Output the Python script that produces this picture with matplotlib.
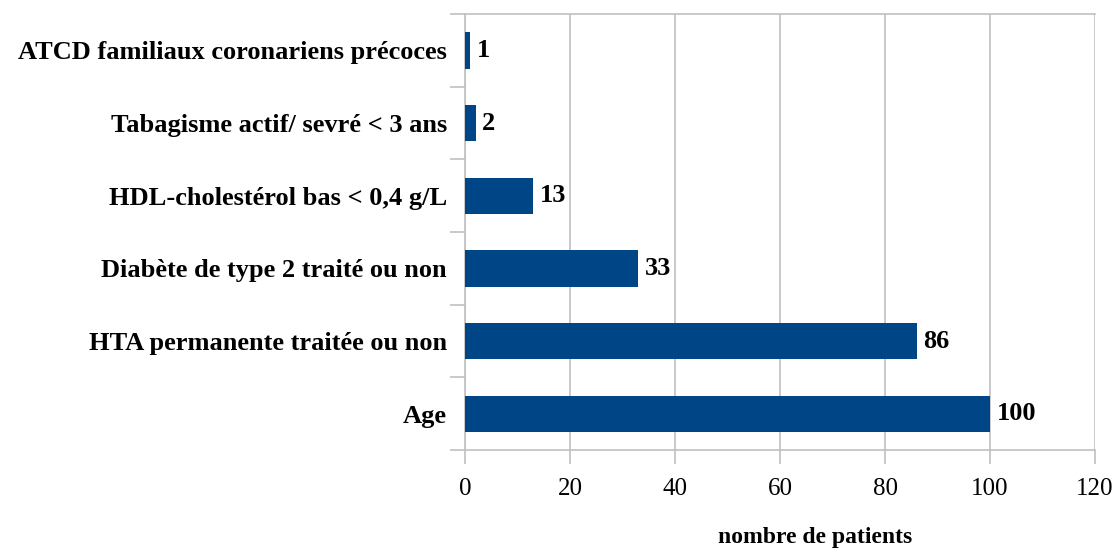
import matplotlib
matplotlib.use("Agg")
import matplotlib.pyplot as plt
from matplotlib.ticker import FixedLocator, NullFormatter

# Données
categories = [
    "Age",
    "HTA permanente traitée ou non",
    "Diabète de type 2 traité ou non",
    "HDL-cholestérol bas < 0,4 g/L",
    "Tabagisme actif/ sevré < 3 ans",
    "ATCD familiaux coronariens précoces",
]
patients = [100, 86, 33, 13, 2, 1]
x_ticks = [0, 20, 40, 60, 80, 100, 120]

BAR_COLOR = "#004586"
GRID_COLOR = "#C0C0C0"
plt.rcParams["font.family"] = ["Liberation Serif", "DejaVu Serif"]

fig = plt.figure(figsize=(11.15, 5.48), dpi=100)
ax = fig.add_axes([465 / 1115, 1 - 450 / 548, 630 / 1115, 436 / 548])

y = list(range(len(categories)))
ax.barh(y, patients, height=0.5, color=BAR_COLOR, zorder=3)

# étiquettes de valeur
for yi, v in zip(y, patients):
    ax.text(v + 1.3, yi, str(v), va="center", ha="left",
            fontsize=19, fontweight="bold")

ax.set_xlim(0, 120)
ax.set_ylim(-0.5, len(categories) - 0.5)
ax.set_xticks(x_ticks)
ax.set_xticklabels([str(t) for t in x_ticks], fontsize=18)
ax.set_yticks(y)
ax.set_yticklabels(categories, fontsize=19, fontweight="bold")
ax.yaxis.set_minor_locator(FixedLocator([i - 0.5 for i in range(len(categories) + 1)]))
ax.yaxis.set_minor_formatter(NullFormatter())

ax.tick_params(axis="y", which="major", length=0, pad=13)
ax.tick_params(axis="y", which="minor", length=11, color=GRID_COLOR, width=1.2)
ax.tick_params(axis="x", which="major", length=10, color=GRID_COLOR, width=1.2, pad=10)

ax.grid(axis="x", color=GRID_COLOR, linewidth=1.2, zorder=0)
for side in ["left", "bottom", "top"]:
    ax.spines[side].set_color(GRID_COLOR)
    ax.spines[side].set_linewidth(1.2)
ax.spines["right"].set_visible(False)

fig.text(815 / 1115, 1 - 538 / 548, "nombre de patients", ha="center", va="center",
         fontsize=17, fontweight="bold")

fig.savefig("out.png", dpi=100)
